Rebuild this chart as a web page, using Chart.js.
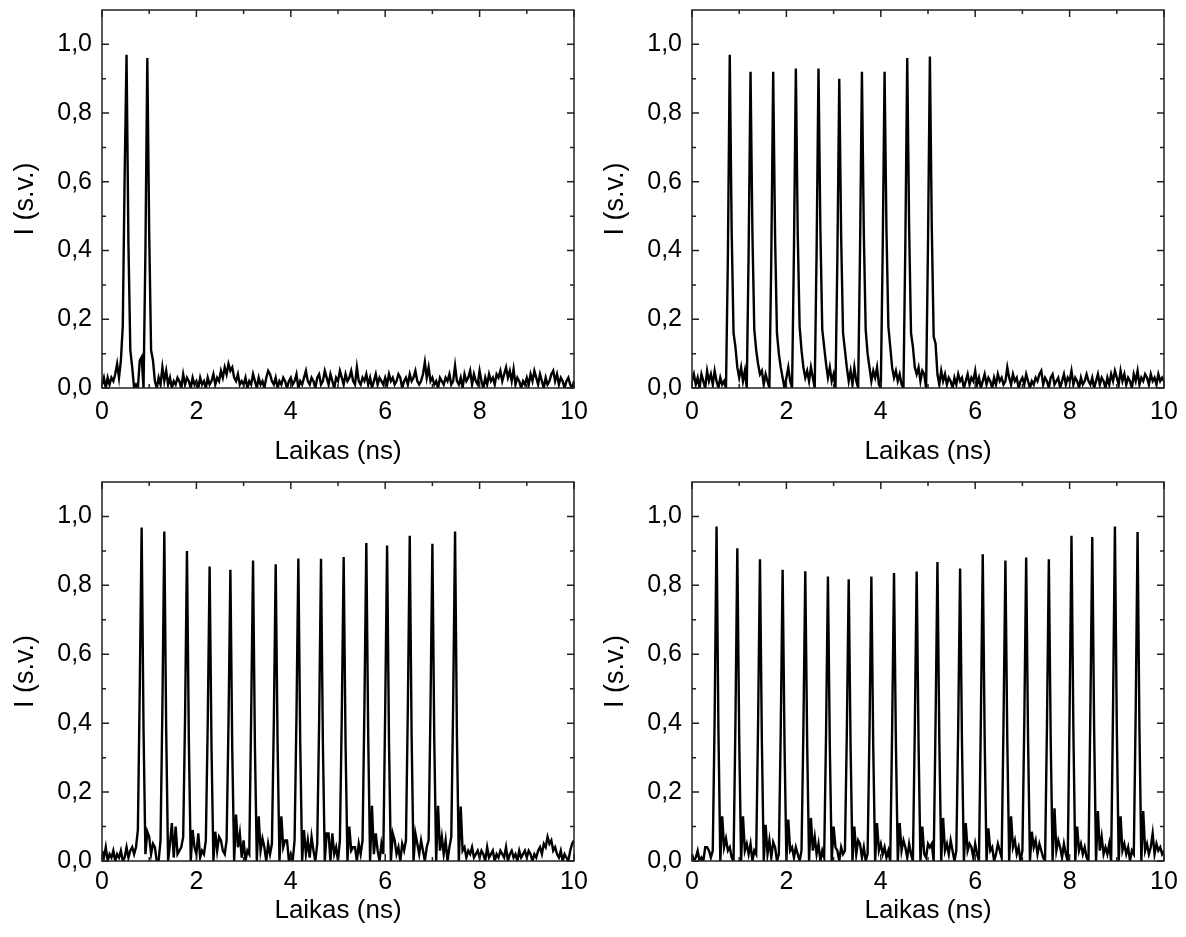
<!DOCTYPE html>
<html>
<head>
<meta charset="utf-8">
<title>Impulsų voros</title>
<script src="https://cdn.jsdelivr.net/npm/chart.js@4.4.1/dist/chart.umd.min.js"></script>
<style>
    html, body { margin: 0; padding: 0; background: #fff; }
    #wrap { position: relative; width: 1186px; height: 937px; overflow: hidden; }
    #wrap canvas { position: absolute; }
</style>
</head>
<body>
<div id="wrap">
    <canvas id="chart2" width="590" height="470" style="left:0;top:0"></canvas>
    <canvas id="chart10" width="596" height="470" style="left:590px;top:0"></canvas>
    <canvas id="chart15" width="590" height="467" style="left:0;top:470px"></canvas>
    <canvas id="chart20" width="596" height="467" style="left:590px;top:470px"></canvas>
</div>
<script>
// Laiko ašis (ns), bendra visiems keturiems grafikams
const timeNs = [
    0, 0.04, 0.08, 0.12, 0.16, 0.2, 0.24, 0.28, 0.32, 0.36, 0.4, 0.44, 0.48, 0.52, 0.56, 0.6, 0.64, 0.68, 0.72, 0.76, 0.8, 0.84, 0.88, 0.92, 0.96,
    1, 1.04, 1.08, 1.12, 1.16, 1.2, 1.24, 1.28, 1.32, 1.36, 1.4, 1.44, 1.48, 1.52, 1.56, 1.6, 1.64, 1.68, 1.72, 1.76, 1.8, 1.84, 1.88, 1.92, 1.96,
    2, 2.04, 2.08, 2.12, 2.16, 2.2, 2.24, 2.28, 2.32, 2.36, 2.4, 2.44, 2.48, 2.52, 2.56, 2.6, 2.64, 2.68, 2.72, 2.76, 2.8, 2.84, 2.88, 2.92, 2.96,
    3, 3.04, 3.08, 3.12, 3.16, 3.2, 3.24, 3.28, 3.32, 3.36, 3.4, 3.44, 3.48, 3.52, 3.56, 3.6, 3.64, 3.68, 3.72, 3.76, 3.8, 3.84, 3.88, 3.92, 3.96,
    4, 4.04, 4.08, 4.12, 4.16, 4.2, 4.24, 4.28, 4.32, 4.36, 4.4, 4.44, 4.48, 4.52, 4.56, 4.6, 4.64, 4.68, 4.72, 4.76, 4.8, 4.84, 4.88, 4.92, 4.96,
    5, 5.04, 5.08, 5.12, 5.16, 5.2, 5.24, 5.28, 5.32, 5.36, 5.4, 5.44, 5.48, 5.52, 5.56, 5.6, 5.64, 5.68, 5.72, 5.76, 5.8, 5.84, 5.88, 5.92, 5.96,
    6, 6.04, 6.08, 6.12, 6.16, 6.2, 6.24, 6.28, 6.32, 6.36, 6.4, 6.44, 6.48, 6.52, 6.56, 6.6, 6.64, 6.68, 6.72, 6.76, 6.8, 6.84, 6.88, 6.92, 6.96,
    7, 7.04, 7.08, 7.12, 7.16, 7.2, 7.24, 7.28, 7.32, 7.36, 7.4, 7.44, 7.48, 7.52, 7.56, 7.6, 7.64, 7.68, 7.72, 7.76, 7.8, 7.84, 7.88, 7.92, 7.96,
    8, 8.04, 8.08, 8.12, 8.16, 8.2, 8.24, 8.28, 8.32, 8.36, 8.4, 8.44, 8.48, 8.52, 8.56, 8.6, 8.64, 8.68, 8.72, 8.76, 8.8, 8.84, 8.88, 8.92, 8.96,
    9, 9.04, 9.08, 9.12, 9.16, 9.2, 9.24, 9.28, 9.32, 9.36, 9.4, 9.44, 9.48, 9.52, 9.56, 9.6, 9.64, 9.68, 9.72, 9.76, 9.8, 9.84, 9.88, 9.92, 9.96,
    10
];

// 2 impulsai (viršuje kairėje)
const burst2 = [
    0.01, 0.03, 0.00, 0.03, 0.01, 0.03, 0.02, 0.04, 0.07, 0.03, 0.08, 0.18, 0.62, 0.97, 0.42, 0.11, 0.06, 0.00, 0.01, 0.00, 0.08, 0.09, 0.00, 0.40, 0.96,
    0.45, 0.11, 0.08, 0.02, 0.00, 0.03, 0.01, 0.06, 0.02, 0.05, 0.01, 0.03, 0.00, 0.02, 0.01, 0.03, 0.02, 0.00, 0.04, 0.01, 0.03, 0.02, 0.00, 0.03, 0.01,
    0.02, 0.00, 0.03, 0.01, 0.02, 0.00, 0.03, 0.01, 0.02, 0.04, 0.01, 0.03, 0.02, 0.05, 0.03, 0.06, 0.04, 0.07, 0.05, 0.06, 0.03, 0.02, 0.04, 0.01, 0.02,
    0.01, 0.03, 0.00, 0.02, 0.01, 0.04, 0.02, 0.00, 0.03, 0.01, 0.02, 0.00, 0.03, 0.05, 0.04, 0.02, 0.01, 0.03, 0.00, 0.02, 0.01, 0.03, 0.02, 0.00, 0.02,
    0.03, 0.01, 0.02, 0.04, 0.00, 0.02, 0.01, 0.03, 0.05, 0.02, 0.01, 0.03, 0.02, 0.00, 0.03, 0.04, 0.01, 0.02, 0.05, 0.03, 0.01, 0.04, 0.02, 0.00, 0.03,
    0.02, 0.05, 0.03, 0.01, 0.04, 0.02, 0.03, 0.05, 0.02, 0.01, 0.06, 0.02, 0.01, 0.03, 0.02, 0.04, 0.01, 0.03, 0.00, 0.02, 0.04, 0.01, 0.03, 0.02, 0.01,
    0.03, 0.01, 0.04, 0.02, 0.03, 0.01, 0.02, 0.04, 0.03, 0.00, 0.02, 0.03, 0.01, 0.04, 0.02, 0.03, 0.05, 0.02, 0.01, 0.02, 0.04, 0.075, 0.03, 0.06, 0.02,
    0.03, 0.01, 0.02, 0.00, 0.03, 0.02, 0.01, 0.03, 0.02, 0.04, 0.01, 0.02, 0.065, 0.02, 0.01, 0.03, 0.00, 0.04, 0.02, 0.03, 0.05, 0.01, 0.04, 0.02, 0.01,
    0.05, 0.02, 0.00, 0.03, 0.01, 0.04, 0.02, 0.03, 0.01, 0.04, 0.03, 0.05, 0.02, 0.04, 0.06, 0.03, 0.05, 0.02, 0.055, 0.01, 0.03, 0.02, 0.00, 0.02, 0.01,
    0.03, 0.01, 0.04, 0.02, 0.05, 0.03, 0.01, 0.04, 0.02, 0.00, 0.03, 0.01, 0.02, 0.04, 0.05, 0.02, 0.04, 0.01, 0.03, 0.02, 0.00, 0.02, 0.03, 0.01, 0.00,
    0.02
];

// 10 impulsų (viršuje dešinėje)
const burst10 = [
    0.02, 0.04, 0.01, 0.03, 0.00, 0.04, 0.02, 0.00, 0.05, 0.02, 0.04, 0.01, 0.05, 0.02, 0.00, 0.03, 0.01, 0.02, 0.00, 0.38, 0.97, 0.46, 0.16, 0.12, 0.06,
    0.03, 0.06, 0.02, 0.05, 0.00, 0.40, 0.92, 0.45, 0.17, 0.11, 0.07, 0.04, 0.05, 0.01, 0.04, 0.02, 0.00, 0.38, 0.92, 0.44, 0.16, 0.10, 0.06, 0.03, 0.00,
    0.03, 0.06, 0.02, 0.00, 0.40, 0.93, 0.45, 0.18, 0.11, 0.06, 0.03, 0.05, 0.02, 0.06, 0.03, 0.00, 0.40, 0.93, 0.46, 0.17, 0.12, 0.07, 0.03, 0.06, 0.02,
    0.04, 0.00, 0.38, 0.90, 0.44, 0.16, 0.11, 0.06, 0.02, 0.05, 0.01, 0.06, 0.02, 0.00, 0.40, 0.92, 0.45, 0.17, 0.10, 0.06, 0.02, 0.05, 0.03, 0.06, 0.01,
    0.00, 0.40, 0.92, 0.46, 0.18, 0.12, 0.06, 0.03, 0.05, 0.02, 0.04, 0.01, 0.00, 0.42, 0.96, 0.47, 0.16, 0.12, 0.06, 0.04, 0.06, 0.02, 0.05, 0.04, 0.00,
    0.42, 0.965, 0.47, 0.15, 0.13, 0.04, 0.01, 0.05, 0.02, 0.04, 0.01, 0.03, 0.02, 0.00, 0.03, 0.01, 0.04, 0.02, 0.03, 0.00, 0.02, 0.04, 0.01, 0.03, 0.02,
    0.05, 0.01, 0.03, 0.00, 0.02, 0.04, 0.01, 0.03, 0.02, 0.00, 0.03, 0.01, 0.04, 0.02, 0.03, 0.01, 0.02, 0.06, 0.03, 0.01, 0.04, 0.02, 0.03, 0.00, 0.02,
    0.03, 0.01, 0.04, 0.02, 0.00, 0.02, 0.01, 0.03, 0.02, 0.04, 0.05, 0.01, 0.03, 0.02, 0.00, 0.03, 0.04, 0.01, 0.02, 0.03, 0.00, 0.02, 0.04, 0.01, 0.03,
    0.02, 0.05, 0.01, 0.03, 0.02, 0.00, 0.03, 0.01, 0.02, 0.04, 0.02, 0.01, 0.03, 0.00, 0.02, 0.04, 0.01, 0.03, 0.02, 0.00, 0.03, 0.01, 0.04, 0.02, 0.05,
    0.03, 0.01, 0.05, 0.02, 0.04, 0.01, 0.03, 0.02, 0.00, 0.04, 0.02, 0.05, 0.01, 0.03, 0.02, 0.04, 0.03, 0.01, 0.04, 0.02, 0.03, 0.01, 0.04, 0.02, 0.03,
    0.02
];

// 15 impulsų (apačioje kairėje)
const burst15 = [
    0.03, 0.01, 0.04, 0.00, 0.02, 0.01, 0.03, 0.00, 0.02, 0.01, 0.03, 0.00, 0.01, 0.04, 0.01, 0.03, 0.04, 0.02, 0.04, 0.09, 0.50, 0.968, 0.38, 0.02, 0.085,
    0.07, 0.02, 0.05, 0.04, 0.00, 0.00, 0.06, 0.45, 0.956, 0.38, 0.00, 0.05, 0.11, 0.01, 0.10, 0.02, 0.03, 0.04, 0.07, 0.42, 0.90, 0.35, 0.00, 0.09, 0.04,
    0.02, 0.08, 0.01, 0.03, 0.02, 0.06, 0.40, 0.855, 0.33, 0.00, 0.085, 0.03, 0.07, 0.06, 0.03, 0.02, 0.06, 0.40, 0.845, 0.32, 0.00, 0.135, 0.04, 0.08, 0.01,
    0.06, 0.00, 0.03, 0.02, 0.42, 0.872, 0.33, 0.00, 0.13, 0.03, 0.065, 0.04, 0.00, 0.05, 0.02, 0.05, 0.40, 0.861, 0.34, 0.00, 0.13, 0.04, 0.06, 0.06, 0.00,
    0.02, 0.00, 0.06, 0.42, 0.878, 0.34, 0.00, 0.09, 0.02, 0.06, 0.01, 0.07, 0.03, 0.00, 0.05, 0.40, 0.877, 0.34, 0.00, 0.08, 0.08, 0.00, 0.08, 0.02, 0.04,
    0.00, 0.06, 0.42, 0.882, 0.34, 0.00, 0.10, 0.03, 0.04, 0.04, 0.00, 0.05, 0.02, 0.06, 0.45, 0.923, 0.36, 0.00, 0.16, 0.02, 0.08, 0.03, 0.00, 0.05, 0.02,
    0.44, 0.916, 0.35, 0.00, 0.08, 0.06, 0.02, 0.04, 0.00, 0.05, 0.03, 0.06, 0.45, 0.944, 0.36, 0.00, 0.08, 0.05, 0.02, 0.06, 0.03, 0.00, 0.04, 0.06, 0.45,
    0.921, 0.35, 0.00, 0.16, 0.03, 0.07, 0.02, 0.06, 0.00, 0.04, 0.07, 0.46, 0.956, 0.36, 0.00, 0.158, 0.03, 0.04, 0.01, 0.03, 0.02, 0.04, 0.01, 0.02, 0.03,
    0.01, 0.03, 0.02, 0.00, 0.04, 0.01, 0.02, 0.03, 0.00, 0.02, 0.01, 0.03, 0.02, 0.01, 0.04, 0.00, 0.02, 0.03, 0.01, 0.02, 0.00, 0.03, 0.01, 0.02, 0.03,
    0.01, 0.03, 0.02, 0.00, 0.02, 0.01, 0.03, 0.04, 0.02, 0.05, 0.04, 0.07, 0.05, 0.06, 0.03, 0.04, 0.02, 0.01, 0.03, 0.00, 0.02, 0.01, 0.00, 0.03, 0.05,
    0.06
];

// 20 impulsų (apačioje dešinėje)
const burst20 = [
    0.02, 0.00, 0.01, 0.03, 0.00, 0.01, 0.00, 0.04, 0.04, 0.03, 0.01, 0.03, 0.42, 0.971, 0.38, 0.00, 0.13, 0.04, 0.065, 0.03, 0.04, 0.01, 0.00, 0.40, 0.908,
    0.36, 0.00, 0.13, 0.03, 0.05, 0.02, 0.05, 0.00, 0.03, 0.02, 0.40, 0.876, 0.35, 0.00, 0.105, 0.02, 0.06, 0.01, 0.055, 0.04, 0.00, 0.02, 0.38, 0.845, 0.34,
    0.00, 0.12, 0.03, 0.04, 0.01, 0.04, 0.02, 0.00, 0.03, 0.38, 0.841, 0.34, 0.00, 0.125, 0.03, 0.07, 0.02, 0.05, 0.00, 0.03, 0.01, 0.37, 0.826, 0.33, 0.00,
    0.10, 0.04, 0.03, 0.00, 0.04, 0.02, 0.03, 0.37, 0.818, 0.33, 0.00, 0.10, 0.02, 0.06, 0.05, 0.01, 0.04, 0.00, 0.02, 0.37, 0.826, 0.33, 0.00, 0.11, 0.03,
    0.05, 0.02, 0.04, 0.01, 0.03, 0.00, 0.38, 0.836, 0.34, 0.00, 0.11, 0.03, 0.06, 0.04, 0.01, 0.05, 0.02, 0.00, 0.38, 0.840, 0.34, 0.00, 0.10, 0.02, 0.01,
    0.05, 0.04, 0.05, 0.00, 0.40, 0.868, 0.35, 0.00, 0.125, 0.03, 0.05, 0.02, 0.06, 0.03, 0.00, 0.03, 0.39, 0.849, 0.34, 0.00, 0.11, 0.03, 0.05, 0.04, 0.01,
    0.05, 0.02, 0.00, 0.41, 0.890, 0.36, 0.00, 0.095, 0.03, 0.04, 0.00, 0.02, 0.05, 0.03, 0.01, 0.40, 0.872, 0.35, 0.00, 0.13, 0.04, 0.06, 0.02, 0.04, 0.00,
    0.03, 0.40, 0.881, 0.35, 0.00, 0.085, 0.04, 0.06, 0.02, 0.05, 0.03, 0.01, 0.00, 0.39, 0.876, 0.35, 0.00, 0.153, 0.03, 0.06, 0.04, 0.01, 0.05, 0.02, 0.00,
    0.43, 0.944, 0.38, 0.00, 0.10, 0.03, 0.05, 0.02, 0.04, 0.01, 0.00, 0.43, 0.940, 0.38, 0.00, 0.145, 0.03, 0.07, 0.02, 0.04, 0.02, 0.05, 0.00, 0.44, 0.971,
    0.39, 0.00, 0.13, 0.03, 0.05, 0.02, 0.04, 0.00, 0.03, 0.02, 0.43, 0.955, 0.38, 0.00, 0.145, 0.03, 0.05, 0.02, 0.04, 0.08, 0.02, 0.05, 0.03, 0.04, 0.02,
    0.03
];

// Ašių padalos
const xTickValues = [0, 2, 4, 6, 8, 10];
const xMinorValues = [1, 3, 5, 7, 9];
const yTickValues = [0, 0.2, 0.4, 0.6, 0.8, 1.0];
const yMinorValues = [0.1, 0.3, 0.5, 0.7, 0.9];

const FONT = "'Liberation Sans', Arial, Helvetica, sans-serif";

// Rėmelis ir padalos į vidų iš visų keturių pusių
const framePlugin = {
    id: 'frame',
    afterDatasetsDraw(chart) {
        const ctx = chart.ctx;
        const a = chart.chartArea;
        const xs = chart.scales.x;
        const ys = chart.scales.y;
        ctx.save();
        ctx.strokeStyle = '#222';
        ctx.lineWidth = 1.5;
        ctx.strokeRect(a.left, a.top, a.right - a.left, a.bottom - a.top);
        ctx.beginPath();
        const xMark = (v, len) => {
            const px = xs.getPixelForValue(v);
            ctx.moveTo(px, a.bottom); ctx.lineTo(px, a.bottom - len);
            ctx.moveTo(px, a.top); ctx.lineTo(px, a.top + len);
        };
        const yMark = (v, len) => {
            const py = ys.getPixelForValue(v);
            ctx.moveTo(a.left, py); ctx.lineTo(a.left + len, py);
            ctx.moveTo(a.right, py); ctx.lineTo(a.right - len, py);
        };
        xTickValues.forEach(v => xMark(v, 7));
        xMinorValues.forEach(v => xMark(v, 4));
        yTickValues.forEach(v => yMark(v, 7));
        yMinorValues.forEach(v => yMark(v, 4));
        ctx.stroke();
        ctx.restore();
    }
};

function drawPanel(canvasId, values, pad) {
    const ctx = document.getElementById(canvasId);
    new Chart(ctx, {
        type: 'line',
        data: {
            datasets: [{
                data: timeNs.map((t, i) => ({ x: t, y: values[i] })),
                borderColor: '#000',
                borderWidth: 2.4,
                pointRadius: 0,
                tension: 0,
                fill: false
            }]
        },
        options: {
            responsive: false,
            animation: false,
            devicePixelRatio: 1,
            events: [],
            layout: {
                padding: { top: pad.top, right: pad.right, left: 0, bottom: 0 }
            },
            plugins: {
                legend: { display: false },
                tooltip: { enabled: false }
            },
            scales: {
                x: {
                    type: 'linear',
                    min: 0,
                    max: 10,
                    grid: { display: false, drawTicks: false },
                    border: { display: false },
                    afterBuildTicks: function(scale) {
                        scale.ticks = xTickValues.map(v => ({ value: v }));
                    },
                    afterFit: function(scale) {
                        scale.height = pad.bottom;
                        scale.paddingLeft = 0;
                        scale.paddingRight = 0;
                    },
                    ticks: {
                        padding: pad.tickGap,
                        color: '#000',
                        autoSkip: false,
                        maxRotation: 0,
                        font: { family: FONT, size: 25 },
                        callback: function(value) {
                            return String(value);
                        }
                    },
                    title: {
                        display: true,
                        text: 'Laikas (ns)',
                        color: '#000',
                        font: { family: FONT, size: 26 },
                        padding: { top: 0, bottom: pad.titleGap }
                    }
                },
                y: {
                    type: 'linear',
                    min: 0,
                    max: 1.1,
                    grid: { display: false, drawTicks: false },
                    border: { display: false },
                    afterBuildTicks: function(scale) {
                        scale.ticks = yTickValues.map(v => ({ value: v }));
                    },
                    afterFit: function(scale) {
                        scale.width = 102;
                        scale.paddingTop = 0;
                        scale.paddingBottom = 0;
                    },
                    ticks: {
                        padding: 10,
                        color: '#000',
                        font: { family: FONT, size: 25 },
                        callback: function(value) {
                            return value.toFixed(1).replace('.', ',');
                        }
                    },
                    title: {
                        display: true,
                        text: 'I (s.v.)',
                        color: '#000',
                        font: { family: FONT, size: 27 },
                        padding: { top: 9, bottom: 0 }
                    }
                }
            }
        },
        plugins: [framePlugin]
    });
}

document.addEventListener('DOMContentLoaded', function() {
    drawPanel('chart2', burst2, { top: 10, right: 16, bottom: 82, tickGap: 9, titleGap: 3 });
    drawPanel('chart10', burst10, { top: 10, right: 22, bottom: 82, tickGap: 9, titleGap: 3 });
    drawPanel('chart15', burst15, { top: 12, right: 16, bottom: 76, tickGap: 6, titleGap: 11 });
    drawPanel('chart20', burst20, { top: 12, right: 22, bottom: 76, tickGap: 6, titleGap: 11 });
});
</script>
</body>
</html>
